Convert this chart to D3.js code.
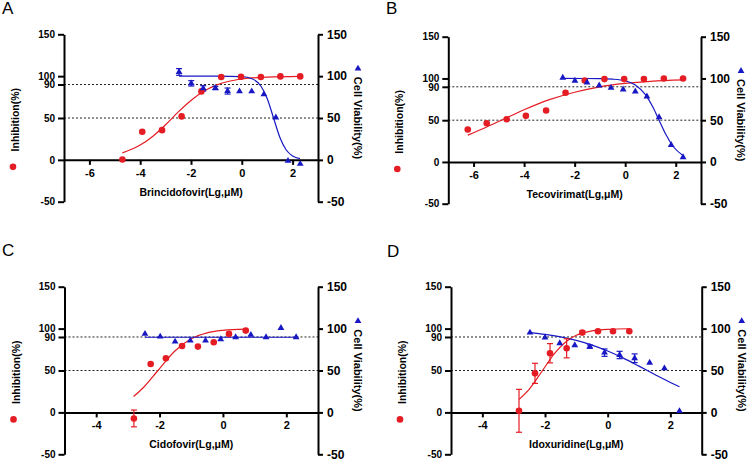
<!DOCTYPE html>
<html>
<head>
<meta charset="utf-8">
<script src="https://cdn.jsdelivr.net/npm/d3@7"></script>
<style>
  body { margin: 0; background: #fff; }
  svg { display: block; }
</style>
</head>
<body>
<svg id="chart" width="750" height="460"></svg>
<script>
// tick labels shared by every panel
const leftTicks = [150, 100, 90, 50, 0, -50];
const rightTicks = [150, 100, 50, 0, -50];
const xTicksAB = [-6, -4, -2, 0, 2];
const xTicksCD = [-4, -2, 0, 2];
const refLines = [90, 50];

// A - Brincidofovir
const brinInhX = [-4.70, -3.92, -3.14, -2.37, -1.59, -0.81, -0.03, 0.75, 1.52, 2.30];
const brinInhY = [0.5, 33.5, 35.5, 51.9, 81.8, 98.9, 99.3, 98.9, 99.7, 99.7];
const brinViaX = [-2.47, -1.99, -1.52, -1.04, -0.56, -0.09, 0.39, 0.87, 1.34, 1.82, 2.30];
const brinViaY = [105, 91.4, 85.4, 85.8, 82.2, 81.8, 81.8, 78.2, 50.7, -1.2, -4.8];
const brinViaErr = [4, 3.2, 3.2, 2, 3.6, 0, 0, 0, 0, 0, 0];
const brinInhFitX = [-4.7, -4, -3.5, -3, -2.5, -2, -1.5, -1, -0.5, 0, 1, 2.3];
const brinInhFitY = [8.4, 17.7, 28.3, 42, 57.3, 71, 82, 89.3, 93.9, 96.6, 98.9, 99.7];
const brinViaFitX = [-2.47, -1, 0, 0.4, 0.75, 1, 1.25, 1.5, 1.75, 2, 2.29];
const brinViaFitY = [100, 100, 99.4, 96.9, 88.2, 73.3, 50, 26.7, 11.8, 4.6, 1.5];

// B - Tecovirimat
const tecoInhX = [-6.23, -5.48, -4.69, -3.93, -3.13, -2.36, -1.60, -0.82, -0.04, 0.74, 1.53, 2.29];
const tecoInhY = [38.8, 46.4, 51.2, 55.2, 61.6, 82.8, 97.6, 99.2, 99.2, 99.2, 100, 100];
const tecoViaX = [-2.47, -1.99, -1.51, -1.03, -0.56, -0.08, 0.40, 0.86, 1.34, 1.82, 2.29];
const tecoViaY = [100.8, 97.2, 95.2, 91.6, 88.8, 86.8, 84.4, 78.4, 53.6, 20.4, 5.6];
const tecoInhFitX = [-6.23, -5.5, -4.9, -4, -3, -2, -1, 0, 1, 2.3];
const tecoInhFitY = [32, 41.6, 50, 62.5, 74.6, 83.5, 90, 94, 96.6, 98.3];
const tecoViaFitX = [-2.47, -1, -0.5, 0, 0.4, 0.8, 1.1, 1.34, 1.6, 1.9, 2.3];
const tecoViaFitY = [100, 99.8, 99.2, 97.2, 92.3, 80.7, 65.4, 50, 33.4, 18.5, 7.3];

// C - Cidofovir
const cidoInhX = [-2.81, -2.28, -1.80, -1.29, -0.79, -0.29, 0.19, 0.72];
const cidoInhY = [-7.2, 57.8, 64.6, 79.3, 78.5, 83.7, 93.7, 97.6];
const cidoInhErr = [10, 0, 0, 0, 0, 0, 0, 0];
const cidoViaX = [-2.46, -1.98, -1.51, -1.03, -0.55, -0.07, 0.40, 0.88, 1.36, 1.83, 2.31];
const cidoViaY = [93.7, 90.4, 84.5, 85.7, 85.7, 87.3, 89.7, 92.5, 89.7, 100.8, 89.7];
const cidoInhFitX = [-2.82, -2.5, -2.05, -1.5, -1, -0.5, 0, 0.72];
const cidoInhFitY = [19, 30, 50, 73.8, 87.8, 94.9, 97.9, 99.4];
const cidoViaFitX = [-2.46, 2.31];
const cidoViaFitY = [89.7, 89.7];

// D - Idoxuridine
const idoxInhX = [-2.83, -2.32, -1.84, -1.31, -0.81, -0.31, 0.17, 0.69];
const idoxInhY = [1.9, 46.6, 70.6, 76.5, 95.2, 96.9, 96.9, 96.9];
const idoxInhErr = [25.6, 12, 11.5, 11.4, 2, 0, 0, 0];
const idoxViaX = [-2.48, -2.00, -1.53, -1.05, -0.57, -0.10, 0.38, 0.86, 1.34, 1.81, 2.29];
const idoxViaY = [95.2, 89.2, 82.5, 80.1, 78.5, 71.3, 68.5, 64.6, 59.3, 52.6, 1.6];
const idoxViaErr = [0, 0, 0, 0, 2, 4.4, 4.4, 5.2, 0, 0, 0];
const idoxInhFitX = [-2.83, -2.5, -2.08, -1.7, -1.3, -1, -0.5, 0, 0.7];
const idoxInhFitY = [15.5, 27.9, 50, 70.2, 85.3, 92, 97.2, 99.1, 99.8];
const idoxViaFitX = [-2.48, -2, -1.5, -1, -0.5, 0, 0.5, 1, 1.5, 2, 2.29];
const idoxViaFitY = [95.2, 93.1, 90.1, 85.9, 80.3, 73.3, 64.8, 55.2, 45.3, 35.7, 30.6];

const RED = "#e41c23";
const BLUE = "#1717c4";
const FONT = "'Liberation Sans', Arial, sans-serif";

const svg = d3.select("#chart");

const zip = (xs, ys, es) => xs.map((x, i) => ({ x: x, y: ys[i], e: es ? es[i] : 0 }));

const drawPanel = function(p) {
  const x = d3.scaleLinear().domain(p.xDomain).range([p.left, p.right]);
  const y = d3.scaleLinear().domain([-50, 150]).range([p.bottom, p.top]);
  const g = svg.append("g");

  // panel letter
  g.append("text")
    .attr("x", p.letterX)
    .attr("y", p.letterY)
    .attr("font-family", FONT)
    .attr("font-size", 17)
    .text(p.letter);

  // dashed reference lines
  g.selectAll(".ref")
    .data(refLines)
    .join("line")
    .attr("x1", p.left)
    .attr("x2", p.right)
    .attr("y1", d => y(d))
    .attr("y2", d => y(d))
    .attr("stroke", "#222")
    .attr("stroke-width", 1)
    .attr("stroke-dasharray", "2,2");

  // axes
  const styleAxis = function(sel, size) {
    sel.selectAll("path").attr("stroke-width", 2);
    sel.selectAll("line").attr("stroke-width", 2);
    sel.selectAll("text")
      .attr("font-family", FONT)
      .attr("font-weight", "bold")
      .attr("font-size", size)
      .attr("fill", "#000");
  };
  g.append("g")
    .attr("transform", `translate(${p.left},0)`)
    .call(d3.axisLeft(y).tickValues(leftTicks).tickSize(6).tickSizeOuter(0).tickPadding(3).tickFormat(d => String(d)))
    .call(sel => styleAxis(sel, 10));
  g.append("g")
    .attr("transform", `translate(${p.right},0)`)
    .call(d3.axisRight(y).tickValues(rightTicks).tickSize(5).tickSizeOuter(0).tickPadding(4).tickFormat(d => String(d)))
    .call(sel => styleAxis(sel, 12));
  g.append("g")
    .attr("transform", `translate(0,${y(0)})`)
    .call(d3.axisBottom(x).tickValues(p.xTicks).tickSize(5).tickSizeOuter(0).tickPadding(4).tickFormat(d => String(d)))
    .call(sel => styleAxis(sel, 11));

  // axis titles
  g.append("text")
    .attr("transform", `translate(${(p.left + p.right) / 2},${y(0) + 36})`)
    .attr("text-anchor", "middle")
    .attr("font-family", FONT)
    .attr("font-weight", "bold")
    .attr("font-size", 10.5)
    .text(p.xTitle);
  g.append("text")
    .attr("transform", `translate(${p.left - 45},${y(48)}) rotate(-90)`)
    .attr("text-anchor", "middle")
    .attr("font-family", FONT)
    .attr("font-weight", "bold")
    .attr("font-size", 10.5)
    .text("Inhibition(%)");
  g.append("text")
    .attr("transform", `translate(${p.right + 36},${y(50)}) rotate(90)`)
    .attr("text-anchor", "middle")
    .attr("font-family", FONT)
    .attr("font-weight", "bold")
    .attr("font-size", 11)
    .text("Cell Viability(%)");

  // legend symbols
  g.append("circle")
    .attr("cx", p.left - 51)
    .attr("cy", y(0) + 7)
    .attr("r", 3.3)
    .attr("fill", RED);
  g.append("path")
    .attr("d", d3.symbol(d3.symbolTriangle, 20)())
    .attr("transform", `translate(${p.right + 40},${y(109)})`)
    .attr("fill", BLUE);

  // fitted curves
  const line = d3.line().x(d => x(d.x)).y(d => y(d.y)).curve(d3.curveMonotoneX);
  g.append("path")
    .attr("d", line(zip(p.inhFitX, p.inhFitY)))
    .attr("fill", "none")
    .attr("stroke", RED)
    .attr("stroke-width", 1.2);
  g.append("path")
    .attr("d", line(zip(p.viaFitX, p.viaFitY)))
    .attr("fill", "none")
    .attr("stroke", BLUE)
    .attr("stroke-width", 1.2);

  // error bars
  const drawErr = function(pts, color) {
    const eb = g.append("g").attr("stroke", color).attr("stroke-width", 1.2);
    pts.filter(d => d.e > 0).forEach(d => {
      eb.append("line").attr("x1", x(d.x)).attr("x2", x(d.x)).attr("y1", y(d.y - d.e)).attr("y2", y(d.y + d.e));
      eb.append("line").attr("x1", x(d.x) - 3).attr("x2", x(d.x) + 3).attr("y1", y(d.y - d.e)).attr("y2", y(d.y - d.e));
      eb.append("line").attr("x1", x(d.x) - 3).attr("x2", x(d.x) + 3).attr("y1", y(d.y + d.e)).attr("y2", y(d.y + d.e));
    });
  };
  const inhPts = zip(p.inhX, p.inhY, p.inhErr);
  const viaPts = zip(p.viaX, p.viaY, p.viaErr);
  drawErr(inhPts, RED);
  drawErr(viaPts, BLUE);

  // points
  g.append("g")
    .selectAll("circle")
    .data(inhPts)
    .join("circle")
    .attr("cx", d => x(d.x))
    .attr("cy", d => y(d.y))
    .attr("r", 3.3)
    .attr("fill", RED);
  g.append("g")
    .selectAll("path")
    .data(viaPts)
    .join("path")
    .attr("d", d3.symbol(d3.symbolTriangle, 20))
    .attr("transform", d => `translate(${x(d.x)},${y(d.y)})`)
    .attr("fill", BLUE);
};

drawPanel({
  letter: "A", letterX: 2, letterY: 14,
  left: 64, right: 318, top: 34.3, bottom: 201.7,
  xDomain: [-7, 3], xTicks: xTicksAB, xTitle: "Brincidofovir(Lg,μM)",
  inhX: brinInhX, inhY: brinInhY, inhErr: null,
  viaX: brinViaX, viaY: brinViaY, viaErr: brinViaErr,
  inhFitX: brinInhFitX, inhFitY: brinInhFitY,
  viaFitX: brinViaFitX, viaFitY: brinViaFitY
});
drawPanel({
  letter: "B", letterX: 386, letterY: 14,
  left: 448.3, right: 701, top: 36.7, bottom: 203.7,
  xDomain: [-7, 3], xTicks: xTicksAB, xTitle: "Tecovirimat(Lg,μM)",
  inhX: tecoInhX, inhY: tecoInhY, inhErr: null,
  viaX: tecoViaX, viaY: tecoViaY, viaErr: null,
  inhFitX: tecoInhFitX, inhFitY: tecoInhFitY,
  viaFitX: tecoViaFitX, viaFitY: tecoViaFitY
});
drawPanel({
  letter: "C", letterX: 2, letterY: 256,
  left: 64.5, right: 318, top: 286.7, bottom: 454.3,
  xDomain: [-5, 3], xTicks: xTicksCD, xTitle: "Cidofovir(Lg,μM)",
  inhX: cidoInhX, inhY: cidoInhY, inhErr: cidoInhErr,
  viaX: cidoViaX, viaY: cidoViaY, viaErr: null,
  inhFitX: cidoInhFitX, inhFitY: cidoInhFitY,
  viaFitX: cidoViaFitX, viaFitY: cidoViaFitY
});
drawPanel({
  letter: "D", letterX: 387, letterY: 257,
  left: 451, right: 701.7, top: 286.7, bottom: 454.3,
  xDomain: [-5, 3], xTicks: xTicksCD, xTitle: "Idoxuridine(Lg,μM)",
  inhX: idoxInhX, inhY: idoxInhY, inhErr: idoxInhErr,
  viaX: idoxViaX, viaY: idoxViaY, viaErr: idoxViaErr,
  inhFitX: idoxInhFitX, inhFitY: idoxInhFitY,
  viaFitX: idoxViaFitX, viaFitY: idoxViaFitY
});
</script>
</body>
</html>
